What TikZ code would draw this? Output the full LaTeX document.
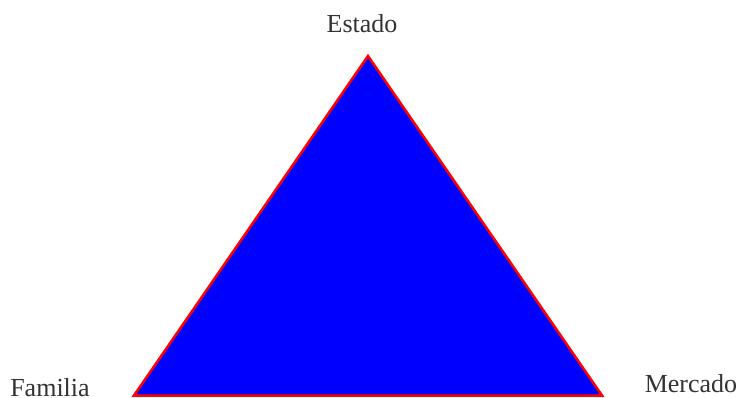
\documentclass[tikz,border=0pt]{standalone}
\usepackage{fontspec}
\setmainfont{Liberation Serif}
\usetikzlibrary{positioning}

\begin{document}
\begin{tikzpicture}[
    x=1pt, y=1pt,
    lbl/.style={font=\fontsize{26}{30}\selectfont, text=black!80, inner sep=0pt, anchor=base},
    tri/.style={draw=red, fill=blue, line width=2.5pt, line join=miter}
]
\useasboundingbox (0,0) rectangle (740,397);

% Corners of the triangle
\coordinate (top) at (368,341);
\coordinate (left) at (134,1.5);
\coordinate (right) at (602,1.5);

\draw[tri] (top) -- (right) -- (left) -- cycle;

% Labels
\node[lbl] (estado) at (362,364) {Estado};
\node[lbl] (familia) at (50,1) {Familia};
\node[lbl] (mercado) at (691,5) {Mercado};
\end{tikzpicture}
\end{document}
